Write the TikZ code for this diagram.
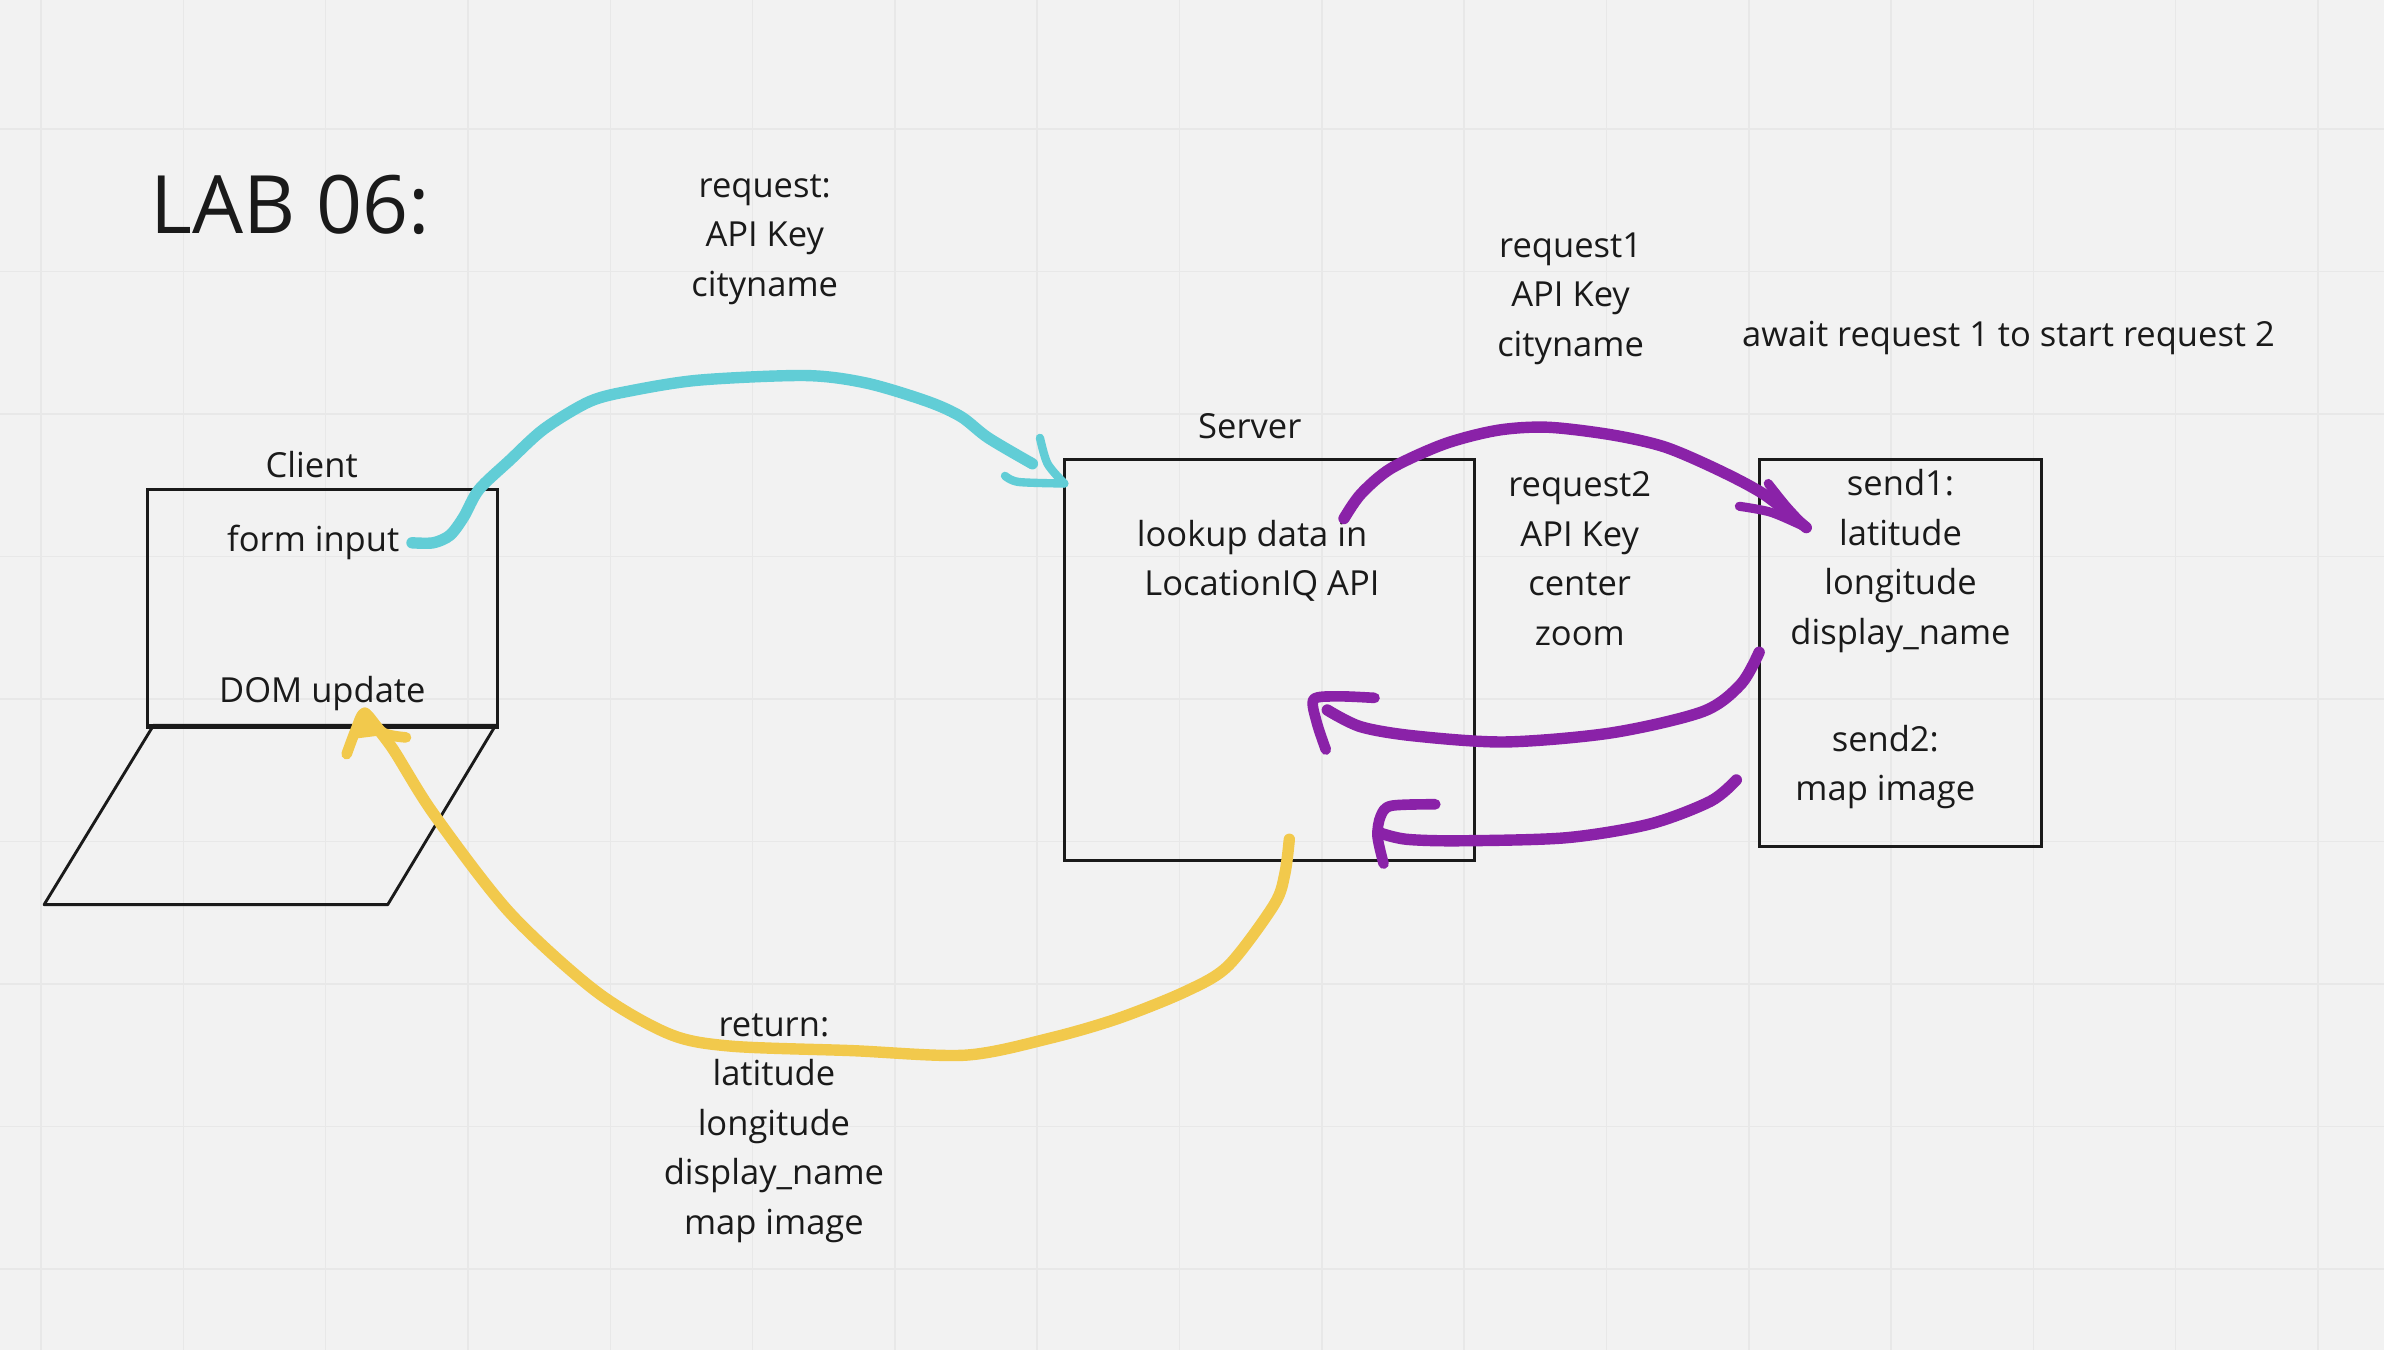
\documentclass[tikz,border=0pt]{standalone}
\usepackage{fontspec}
\setmainfont{Open Sans}
\definecolor{boardbg}{HTML}{F2F2F2}
\definecolor{boardgrid}{HTML}{E8E8E8}
\definecolor{inkline}{HTML}{1A1A1A}
\definecolor{tealink}{HTML}{61CDD6}
\definecolor{purpleink}{HTML}{8A22A8}
\definecolor{yellowink}{HTML}{F2C94C}
\tikzset{
  label/.style={inner sep=0pt,align=center,text=inkline,font=\fontsize{22.7}{32.5}\selectfont},
  box/.style={draw=inkline,line width=1.9pt,rectangle,inner sep=0pt},
  stroke/.style={line width=#1,line cap=round,line join=round},
}
\begin{document}
\begin{tikzpicture}[x=1pt,y=-1pt]
  \useasboundingbox[fill=boardbg] (0,0) rectangle (1568,888);
  \foreach \x in {27,120.6,...,1530} \draw[boardgrid,line width=1pt] (\x,0) -- (\x,888);
  \foreach \y in {85,178.7,...,840} \draw[boardgrid,line width=1pt] (0,\y) -- (1568,\y);

  \node[label,font=\fontsize{53}{60}\selectfont,anchor=west] (title) at (99,135) {LAB 06:};

  \node[box,minimum width=230pt,minimum height=155pt] (clientbox) at (212,399.5) {};
  \draw[inkline,line width=1.9pt,line join=round] (101,477) -- (326,477) -- (255,595) -- (29,595) -- cycle;
  \draw[inkline,line width=3pt] (clientbox.south west) -- (clientbox.south east);
  \node[label] (client) at (205,305.5) {Client};
  \node[label] (forminput) at (206,357) {form input};
  \node[label] (domupdate) at (212,456) {DOM update};

  \node[box,minimum width=270pt,minimum height=264pt] (serverbox) at (835,434) {};
  \node[label] (server) at (822,280) {Server};
  \node[label] (lookup) at (823.5,369) {lookup data in\\\hspace*{13pt}LocationIQ API};

  \node[box,minimum width=186pt,minimum height=255pt] (apibox) at (1250,429.5) {};
  \node[label] (send1) at (1250,369) {send1:\\latitude\\longitude\\display\_name};
  \node[label] (send2) at (1240,504.5) {send2:\\map image};

  \node[label] (request) at (503,157.5) {request:\\API Key\\cityname};
  \node[label] (request1) at (1033,196.5) {request1\\API Key\\cityname};
  \node[label] (request2) at (1039,367.5) {request2\\API Key\\center\\zoom};
  \node[label] (await) at (1321,222) {await request 1 to start request 2};
  \node[label] (returned) at (509,742) {return:\\latitude\\longitude\\display\_name\\map image};

  % hand drawn arrows
  \coordinate (formout) at (271,357);
  \coordinate (serverin) at (700,318);
  \draw[tealink,stroke=7.5pt] plot[smooth] coordinates {(formout) (285,357) (296,352) (305,340) (315,322) (335,303) (358,282) (388,264) (415,257) (460,250) (530,247) (570,252) (610,264) (632,274) (650,288) (679,305)};
  \draw[tealink,stroke=5.5pt] plot[smooth] coordinates {(684,288) (689,305) (serverin)};
  \draw[tealink,stroke=5.5pt] plot[smooth] coordinates {(661,313) (670,317) (serverin)};

  \coordinate (lookupout) at (884,341);
  \coordinate (apiin) at (1188,347);
  \draw[purpleink,stroke=7.5pt] plot[smooth] coordinates {(lookupout) (895,325) (915,308) (950,292) (985,283) (1018,281) (1060,286) (1095,294) (1130,309) (1160,325) (apiin)};
  \draw[purpleink,stroke=6pt] plot[smooth] coordinates {(1163,318) (1175,333) (apiin)};
  \draw[purpleink,stroke=6pt] plot[smooth] coordinates {(1144,333) (1165,337) (apiin)};

  \coordinate (send1out) at (1157,429);
  \coordinate (back1) at (873,467);
  \draw[purpleink,stroke=7.5pt] plot[smooth] coordinates {(send1out) (1145,450) (1120,468) (1060,482) (990,488) (930,484) (895,478) (back1)};
  \draw[purpleink,stroke=7pt] plot[smooth] coordinates {(904,459) (880,458) (864,460) (866,475) (872,493)};

  \coordinate (send2out) at (1142,513);
  \coordinate (back2) at (908,548);
  \draw[purpleink,stroke=7.5pt] plot[smooth] coordinates {(send2out) (1125,527) (1085,542) (1030,551) (960,553) (925,552) (back2)};
  \draw[purpleink,stroke=7pt] plot[smooth] coordinates {(944,529) (915,530) (908,537) (906,550) (910,568)};

  \coordinate (serverout) at (848,552);
  \coordinate (domin) at (240,469);
  \draw[yellowink,stroke=7.5pt] plot[smooth] coordinates {(serverout) (845,575) (838,595) (808,635) (780,652) (735,670) (690,683) (635,694) (560,691) (480,688) (440,680) (392,652) (335,600) (285,535) (258,492) (domin)};
  \draw[yellowink,stroke=7pt] plot[smooth] coordinates {(228,496) (234,480) (domin) (252,482) (267,485)};
  \fill[yellowink] (domin) -- (232,486) -- (248,484) -- cycle;
\end{tikzpicture}
\end{document}
